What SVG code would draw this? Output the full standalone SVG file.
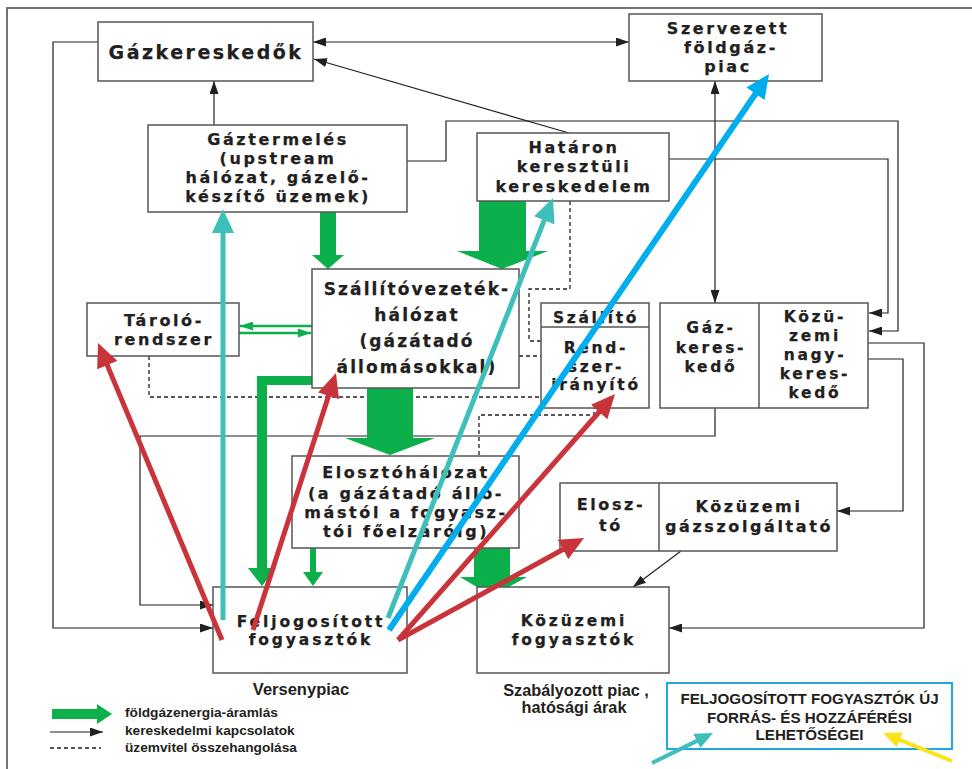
<svg xmlns="http://www.w3.org/2000/svg" width="972" height="769" viewBox="0 0 972 769">
<style>
.box{fill:#fff;stroke:#555;stroke-width:1.5}
.n{font-family:"DejaVu Sans",sans-serif;font-weight:bold;font-size:16px;letter-spacing:2.6px;text-anchor:middle;fill:#231f20;stroke:#231f20;stroke-width:0.25}
.s{font-size:15.5px;letter-spacing:2.7px}
.t{font-family:"Liberation Sans",Arial,sans-serif;font-weight:bold;fill:#231f20}
.c{fill:none;stroke:#231f20;stroke-width:1.2}
.d{fill:none;stroke:#231f20;stroke-width:1.3;stroke-dasharray:4,3}
.gf{fill:#0bb04b}
.gl{fill:none;stroke:#0bb04b;stroke-width:2.5}
.red{stroke:#c8343a;stroke-width:5;fill:none}
.teal{stroke:#3fbfb9;stroke-width:5;fill:none}
.blue{stroke:#00adee;stroke-width:6;fill:none}
.yel{stroke:#fbe317;stroke-width:4;fill:none}
</style>
<defs>
<marker id="ah" markerUnits="userSpaceOnUse" markerWidth="13" markerHeight="9" refX="13" refY="4.5" orient="auto-start-reverse"><path d="M0,0 L13,4.5 L0,9 Z" fill="#231f20"/></marker>
<marker id="gh" markerUnits="userSpaceOnUse" markerWidth="13" markerHeight="9" refX="13" refY="4.5" orient="auto"><path d="M0,0 L13,4.5 L0,9 Z" fill="#0bb04b"/></marker>
<marker id="rh" markerUnits="userSpaceOnUse" markerWidth="24" markerHeight="22" refX="16" refY="11" orient="auto"><path d="M0,0 L24,11 L0,22 Z" fill="#c8343a"/></marker>
<marker id="th" markerUnits="userSpaceOnUse" markerWidth="24" markerHeight="22" refX="16" refY="11" orient="auto"><path d="M0,0 L24,11 L0,22 Z" fill="#3fbfb9"/></marker>
<marker id="bh" markerUnits="userSpaceOnUse" markerWidth="24" markerHeight="22" refX="16" refY="11" orient="auto"><path d="M0,0 L24,11 L0,22 Z" fill="#00adee"/></marker>
<marker id="ths" markerUnits="userSpaceOnUse" markerWidth="18" markerHeight="16" refX="12" refY="8" orient="auto"><path d="M0,0 L18,8 L0,16 Z" fill="#3fbfb9"/></marker>
<marker id="yh" markerUnits="userSpaceOnUse" markerWidth="18" markerHeight="16" refX="12" refY="8" orient="auto"><path d="M0,0 L18,8 L0,16 Z" fill="#fbe317"/></marker>
</defs>
<rect x="0" y="0" width="972" height="769" fill="#fff"/>
<rect x="7" y="8" width="990" height="790" fill="none" stroke="#666" stroke-width="1.8"/>

<g id="connectors">
  <polyline class="c" points="98,42 53,42 53,628 213,628" marker-end="url(#ah)"/>
  <polyline class="c" points="715,408 715,436 140,436 140,605 213,605" marker-end="url(#ah)"/>
  <line class="c" x1="214" y1="125" x2="214" y2="81" marker-end="url(#ah)"/>
  <line class="c" x1="313" y1="42" x2="629" y2="42" marker-start="url(#ah)" marker-end="url(#ah)"/>
  <line class="c" x1="569" y1="133" x2="314" y2="59" marker-end="url(#ah)"/>
  <polyline class="c" points="407,161 446,161 446,121 898,121 898,331 869,331" marker-end="url(#ah)"/>
  <polyline class="c" points="669,159 888,159 888,313 869,313" marker-end="url(#ah)"/>
  <line class="c" x1="715" y1="81" x2="715" y2="303" marker-start="url(#ah)" marker-end="url(#ah)"/>
  <polyline class="c" points="868,343 924,343 924,628 669,628" marker-end="url(#ah)"/>
  <polyline class="c" points="868,359 903,359 903,511 837,511" marker-end="url(#ah)"/>
  <line class="c" x1="681" y1="551" x2="633" y2="587" marker-end="url(#ah)"/>
  <polyline class="d" points="570,201 570,289 529,289 529,341 541,341"/>
  <line class="d" x1="519" y1="356" x2="541" y2="356"/>
  <polyline class="d" points="149,356 149,397 541,397"/>
  <polyline class="d" points="479,455 479,415 594,415 594,408"/>
  <line class="gl" x1="312" y1="326" x2="240" y2="326" marker-end="url(#gh)"/>
  <line class="gl" x1="239" y1="333" x2="311" y2="333" marker-end="url(#gh)"/>
  <polygon class="gf" points="320,212 336,212 336,255 344,255 328,269 312,255 320,255"/>
  <polygon class="gf" points="479,201 526,201 526,251 548,251 502,269 457,251 479,251"/>
  <polygon class="gf" points="367,388 413,388 413,438 435,438 390,455 345,438 367,438"/>
  <polygon class="gf" points="312,376 257,376 257,568 248,568 262,586 276,568 267,568 267,385 312,385"/>
  <polygon class="gf" points="310,548 316,548 316,572 323,572 313,586 303,572 310,572"/>
  <polygon class="gf" points="474,548 510,548 510,577 527,577 492,596 460,577 474,577"/>
</g>

<g id="gazkereskedok">
  <rect class="box" x="98" y="22" width="215" height="59"/>
  <text class="n" x="206" y="59" style="font-size:19px;letter-spacing:2.5px">Gázkereskedők</text>
</g>
<g id="szervezett">
  <rect class="box" x="629" y="14" width="193" height="67"/>
  <text class="n" x="728" y="34">Szervezett</text>
  <text class="n" x="731" y="53">földgáz-</text>
  <text class="n" x="728" y="72">piac</text>
</g>
<g id="gaztermeles">
  <rect class="box" x="148" y="125" width="259" height="87"/>
  <text class="n" x="278" y="145">Gáztermelés</text>
  <text class="n" x="278" y="164">(upstream</text>
  <text class="n" x="278" y="183">hálózat, gázelő-</text>
  <text class="n" x="278" y="202">készítő üzemek)</text>
</g>
<g id="hataron">
  <rect class="box" x="477" y="133" width="192" height="68"/>
  <text class="n" x="574" y="153">Határon</text>
  <text class="n" x="574" y="172">keresztüli</text>
  <text class="n" x="574" y="192">kereskedelem</text>
</g>
<g id="tarolo">
  <rect class="box" x="87" y="303" width="152" height="53"/>
  <text class="n" x="164" y="326">Tároló-</text>
  <text class="n" x="164" y="345">rendszer</text>
</g>
<g id="szallitovezetek">
  <rect class="box" x="312" y="269" width="207" height="119"/>
  <text class="n" x="417" y="295" style="font-size:17px;letter-spacing:2.1px">Szállítóvezeték-</text>
  <text class="n" x="417" y="321" style="font-size:17px;letter-spacing:2.1px">hálózat</text>
  <text class="n" x="417" y="347" style="font-size:17px;letter-spacing:2.1px">(gázátadó</text>
  <text class="n" x="417" y="373" style="font-size:17px;letter-spacing:2.1px">állomásokkal)</text>
</g>
<g id="rendszeriranyito">
  <rect class="box" x="541" y="303" width="108" height="105"/>
  <line x1="541" y1="327" x2="649" y2="327" stroke="#555" stroke-width="1.5"/>
  <text class="n s" x="596" y="323">Szállító</text>
  <text class="n s" x="596" y="353">Rend-</text>
  <text class="n s" x="596" y="372">szer-</text>
  <text class="n s" x="596" y="390">irányító</text>
</g>
<g id="gazkereskedo">
  <rect class="box" x="660" y="303" width="208" height="105"/>
  <line x1="759" y1="303" x2="759" y2="408" stroke="#555" stroke-width="1.5"/>
  <text class="n s" x="711" y="333">Gáz-</text>
  <text class="n s" x="711" y="353">keres-</text>
  <text class="n s" x="711" y="372">kedő</text>
  <text class="n s" x="815" y="322">Közü-</text>
  <text class="n s" x="815" y="341">zemi</text>
  <text class="n s" x="815" y="360">nagy-</text>
  <text class="n s" x="815" y="379">keres-</text>
  <text class="n s" x="815" y="398">kedő</text>
</g>
<g id="elosztohalozat">
  <rect class="box" x="292" y="456" width="227" height="92"/>
  <text class="n" x="406" y="478">Elosztóhálózat</text>
  <text class="n" x="406" y="499">(a gázátadó állo-</text>
  <text class="n" x="406" y="518">mástól a fogyasz-</text>
  <text class="n" x="406" y="537">tói főelzáróig)</text>
</g>
<g id="eloszto">
  <rect class="box" x="560" y="483" width="277" height="68"/>
  <line x1="659" y1="483" x2="659" y2="551" stroke="#555" stroke-width="1.5"/>
  <text class="n" x="611" y="510">Elosz-</text>
  <text class="n" x="611" y="531">tó</text>
  <text class="n" x="749" y="512">Közüzemi</text>
  <text class="n" x="749" y="532">gázszolgáltató</text>
</g>
<g id="feljogositott">
  <rect class="box" x="213" y="587" width="194" height="86"/>
  <text class="n s" x="311" y="627" style="letter-spacing:2.9px">Feljogosított</text>
  <text class="n s" x="311" y="645" style="letter-spacing:2.9px">fogyasztók</text>
</g>
<g id="kozuzemifogyasztok">
  <rect class="box" x="477" y="587" width="192" height="86"/>
  <text class="n s" x="574" y="626" style="letter-spacing:2.9px">Közüzemi</text>
  <text class="n s" x="574" y="645" style="letter-spacing:2.9px">fogyasztók</text>
</g>

<g id="access-arrows">
  <line class="red" x1="222" y1="640" x2="101.1" y2="350.4" marker-end="url(#rh)"/>
  <line class="teal" x1="223" y1="620" x2="223" y2="217" marker-end="url(#th)"/>
  <line class="red" x1="253" y1="630" x2="333.5" y2="380.6" marker-end="url(#rh)"/>
  <line class="teal" x1="388" y1="618" x2="550.1" y2="205.4" marker-end="url(#th)"/>
  <line class="blue" x1="389" y1="630" x2="764.5" y2="80.6" marker-end="url(#bh)"/>
  <line class="red" x1="398" y1="640" x2="609.7" y2="400" marker-end="url(#rh)"/>
  <line class="red" x1="398" y1="640" x2="577" y2="541.8" marker-end="url(#rh)"/>
</g>

<g id="labels">
  <text class="t" x="301" y="695" text-anchor="middle" font-size="16.5">Versenypiac</text>
  <text class="t" x="576" y="696" text-anchor="middle" font-size="16.3">Szabályozott piac ,</text>
  <text class="t" x="574" y="713" text-anchor="middle" font-size="16.3">hatósági árak</text>
</g>

<g id="legend">
  <polygon class="gf" points="52,709 97,709 97,704 112,714 97,724 97,719 52,719"/>
  <line class="c" x1="50" y1="732" x2="103" y2="732" marker-end="url(#ah)"/>
  <line class="d" x1="50" y1="748" x2="101" y2="748"/>
  <text class="t" x="125" y="717" font-size="13.7">földgázenergia-áramlás</text>
  <text class="t" x="125" y="735" font-size="13.7">kereskedelmi kapcsolatok</text>
  <text class="t" x="125" y="752" font-size="13.7">üzemvitel összehangolása</text>
</g>

<g id="info">
  <rect x="667" y="683" width="285" height="66" fill="#fff" stroke="#1ea9e6" stroke-width="2"/>
  <text class="t" x="809.5" y="704" text-anchor="middle" font-size="15.2">FELJOGOSÍTOTT FOGYASZTÓK ÚJ</text>
  <text class="t" x="809.5" y="723" text-anchor="middle" font-size="15.2">FORRÁS- ÉS HOZZÁFÉRÉSI</text>
  <text class="t" x="809.5" y="740" text-anchor="middle" font-size="15.2">LEHETŐSÉGEI</text>
  <line class="teal" style="stroke-width:4" x1="652" y1="763" x2="707.6" y2="735.6" marker-end="url(#ths)"/>
  <line class="yel" x1="952" y1="761" x2="888.6" y2="735.3" marker-end="url(#yh)"/>
</g>
</svg>
